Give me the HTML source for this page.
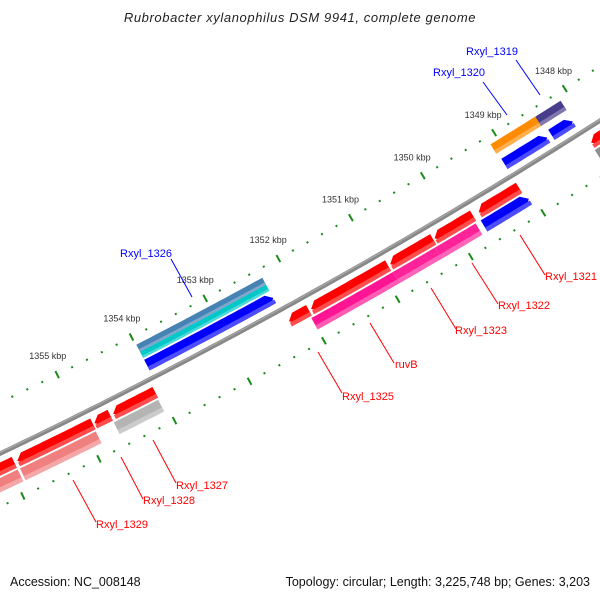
<!DOCTYPE html>
<html><head><meta charset="utf-8"><style>
body{margin:0;background:#fff;}
svg{display:block;font-family:"Liberation Sans","DejaVu Sans",sans-serif;}
</style></head><body>
<svg id="map" width="600" height="600" viewBox="0 0 600 600">
<text x="300" y="22" text-anchor="middle" font-size="13" font-style="italic" fill="#222" letter-spacing="0.6">Rubrobacter xylanophilus DSM 9941, complete genome</text>
<g id="ticks"></g>
<g id="bb"></g>
<g id="genes"></g>
<g id="labels"></g>
<text x="10" y="586" font-size="12.5" fill="#111">Accession: NC_008148</text>
<text x="590" y="586" font-size="12.5" fill="#111" text-anchor="end">Topology: circular; Length: 3,225,748 bp; Genes: 3,203</text>
</svg>
<script>
// ---- data ----
const geneNames  = ['Rxyl_1319','Rxyl_1320','blue-a','blue-b','Rxyl_1326','Rxyl_1326c','blue-1326','red-1321','Rxyl_1321','red-1322','red-1323','red-ruvB','Rxyl_1325','Rxyl_1322','Rxyl_1323','ruvB','red-1327','Rxyl_1327','Rxyl_1328','red-1329','Rxyl_1329','red-left','salmon-left','red-right','gray-right'];
const geneStart  = [1348.12,1348.48,1348.49,1348.13,1352.28,1352.28,1352.28,1349.09,1349.06,1349.73,1350.28,1350.90,1351.98,1349.75,1350.31,1350.89,1354.05,1354.06,1354.65,1354.88,1354.89,1355.92,1355.92,1347.0,1347.0];
const geneEnd    = [1348.48,1349.11,1349.09,1348.43,1353.99,1353.99,1353.99,1349.65,1349.68,1350.26,1350.87,1351.95,1352.25,1350.31,1350.89,1352.00,1354.61,1354.65,1354.86,1355.88,1355.89,1357.5,1357.5,1348.08,1348.09];
const geneRow    = ['i2','i2','i1','i1','i2a','i2b','i1','o1','o2','o1','o1','o1','o1','o2','o2','o2','o1','o2','o1','o1','o2','o1','o2','o1','o2'];
const geneArrow  = ['N','N','R','R','N','N','R','L','R','L','L','L','L','N','N','N','L','N','L','L','N','N','N','L','N'];
const geneColor  = ['#483d8b','#ff8c00','#0000ff','#0000ff','#4682b4','#00c8c8','#0000ff','#ff0000','#0000ff','#ff0000','#ff0000','#ff0000','#ff0000','#ff2299','#ff2299','#ff1493','#ff0000','#b4b4b4','#ff0000','#ff0000','#f08080','#ff0000','#f08080','#ff0000','#909090'];
const tickMajor  = [1347,1348,1349,1350,1351,1352,1353,1354,1355,1356];
const tickLabels = ['1348 kbp','1349 kbp','1350 kbp','1351 kbp','1352 kbp','1353 kbp','1354 kbp','1355 kbp'];
const tickLabelK = [1348,1349,1350,1351,1352,1353,1354,1355];
const labelText  = ['Rxyl_1319','Rxyl_1320','Rxyl_1326','Rxyl_1321','Rxyl_1322','Rxyl_1323','ruvB','Rxyl_1325','Rxyl_1327','Rxyl_1328','Rxyl_1329'];
const labelColor = ['#0000ff','#0000ff','#0000ff','#ff0000','#ff0000','#ff0000','#ff0000','#ff0000','#ff0000','#ff0000','#ff0000'];
const labelX     = [466,433,120,545,498,455,395,342,176,143,96];
const labelY     = [55,76,257,280,309,334,368,400,489,504,528];
const lineX1     = [516,483,171,520,472,431,370,318,153,121,73];
const lineY1     = [60,82,259,235,263,288,323,352,440,457,480];
const lineX2     = [540,507,192,545,498,456,394,342,176,143,96];
const lineY2     = [95,115,297,275,304,329,363,393,483,499,522];

// ---- geometry ----
const CX=-2417, CY=-4609, R0=5610, T0=59.31, DT=0.8575;
function P(k,r){const t=(T0+(k-1350)*DT)*Math.PI/180;const R=R0+r;return [CX+R*Math.cos(t),CY+R*Math.sin(t)];}
const rows={i1:[-20,-8],i2:[-38,-27],i2a:[-37,-29],i2b:[-29,-22],o1:[8,20],o2:[22,35]};
const NS='http://www.w3.org/2000/svg';
function mk(tag,attrs,parent){const e=document.createElementNS(NS,tag);for(const a in attrs)e.setAttribute(a,attrs[a]);parent.appendChild(e);return e;}
function pts(a){return a.map(p=>p[0].toFixed(1)+','+p[1].toFixed(1)).join(' ');}
function lighten(c,f){const n=parseInt(c.slice(1),16);let r=n>>16,g=(n>>8)&255,b=n&255;r=Math.round(r+(255-r)*f);g=Math.round(g+(255-g)*f);b=Math.round(b+(255-b)*f);return 'rgb('+r+','+g+','+b+')';}
function shape(k1,k2,ra,rb,arrow){
  const head=0.08, out=[];let a=k1,b=k2;
  if(arrow==='R')a=k1+head; if(arrow==='L')b=k2-head;
  const n=Math.max(2,Math.ceil((b-a)/0.05));
  for(let i=0;i<=n;i++)out.push(P(a+(b-a)*i/n,ra));
  if(arrow==='L')out.push(P(k2,(ra+rb)/2));
  for(let i=n;i>=0;i--)out.push(P(a+(b-a)*i/n,rb));
  if(arrow==='R')out.push(P(k1,(ra+rb)/2));
  return out;
}
const gT=document.getElementById('ticks'),gB=document.getElementById('bb'),gG=document.getElementById('genes'),gL=document.getElementById('labels');

// ticks: dots every 0.2 kbp, majors at integers
for(let i=0;i<=60;i++){
  const k=1346.8+i*0.2;
  const major=tickMajor.some(m=>Math.abs(m-k)<1e-6);
  [-46,48].forEach(r=>{
    const len=major?4:1;
    const a=P(k,r-len),b=P(k,r+len);
    const l=mk('line',{x1:a[0],y1:a[1],x2:b[0],y2:b[1],stroke:'#1a8a1a','stroke-width':2},gT);
    
    
  });
}
tickLabels.forEach((t,i)=>{
  const p=P(tickLabelK[i],-67);
  const e=mk('text',{x:p[0].toFixed(1),y:(p[1]+3).toFixed(1),'text-anchor':'middle','font-size':'9',fill:'#333'},gT);
  e.textContent=t;
  
  
});

// backbone
const bbPts=[];for(let k=1346;k<=1357;k+=0.1)bbPts.push(P(k,0));
const bbl=mk('polyline',{points:pts(bbPts),fill:'none',stroke:'#888','stroke-width':4.5},gB);


const bbh=mk('polyline',{points:pts(bbPts.map((p,i)=>P(1346+i*0.1,-1))),fill:'none',stroke:'#a8a8a8','stroke-width':1.2},gB);



// genes
geneNames.forEach((nm,i)=>{
  const rr=rows[geneRow[i]];
  const g=mk('g',{},gG);
  
  
  mk('polygon',{points:pts(shape(geneStart[i],geneEnd[i],rr[0],rr[1],geneArrow[i])),fill:geneColor[i]},g);
  const split=rr[0]+(rr[1]-rr[0])*0.65;
  const lp=mk('polygon',{points:pts(shape(geneStart[i],geneEnd[i],split,rr[1],'N').slice(0)),fill:lighten(geneColor[i],0.3)},g);
  
  
});

// labels
labelText.forEach((t,i)=>{
  const l=mk('line',{x1:lineX1[i],y1:lineY1[i],x2:lineX2[i],y2:lineY2[i],stroke:labelColor[i],'stroke-width':1},gL);
  
  
  const e=mk('text',{x:labelX[i],y:labelY[i],'font-size':'11',fill:labelColor[i]},gL);
  e.textContent=t;
  
  
});
</script>
</body></html>
